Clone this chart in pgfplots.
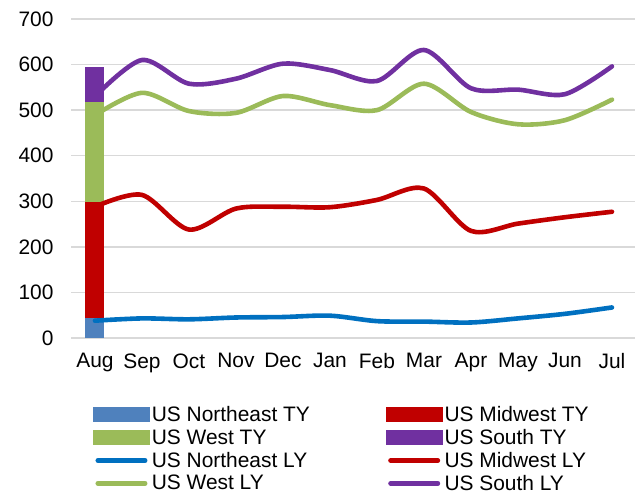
\documentclass[border=0pt]{standalone}
\usepackage{fontspec}
\setmainfont{Liberation Sans}
\usepackage{pgfplots}
\pgfplotsset{compat=1.18}
\definecolor{neB}{HTML}{4F81BD}
\definecolor{neL}{HTML}{0070C0}
\definecolor{mw}{HTML}{C00000}
\definecolor{we}{HTML}{9BBB59}
\definecolor{so}{HTML}{7030A0}
\definecolor{gridgray}{HTML}{D9D9D9}
\begin{document}
\begin{tikzpicture}
\useasboundingbox (0,0) rectangle (641bp,497bp);
\begin{axis}[
  at={(71bp,159bp)}, anchor=south west,
  scale only axis, width=564bp, height=319bp,
  xmin=-0.51, xmax=11.49, ymin=0, ymax=700,
  xtick={0,...,11},
  xticklabels={Aug,Sep,Oct,Nov,Dec,Jan,Feb,Mar,Apr,May,Jun,Jul},
  ytick={0,100,...,700},
  ymajorgrids=true, xmajorgrids=false,
  major grid style={gridgray, line width=1.5bp},
  axis line style={draw=none},
  major tick length=0pt,
  /pgf/number format/assume math mode=true,
  tick label style={font=\fontsize{21}{24}\selectfont, text=black},
  yticklabel style={xshift=-14bp},
  xticklabel style={yshift=-12bp},
  legend columns=2,
  legend cell align=left,
  legend style={at={(0.039,-0.214)}, anchor=north west, draw=none, fill=none,
    font=\fontsize{21}{24}\selectfont, row sep=6.2bp,
    nodes={inner sep=0pt},
    /tikz/every odd column/.append style={column sep=2bp},
    /tikz/every even column/.append style={column sep=76bp},
    inner sep=0pt},
]
\draw[gridgray, line width=1.5bp] (axis cs:-0.51,0) -- (axis cs:11.49,0);
% TY stacked bars at Aug (drawn tallest first, overlapping)
\addplot[ybar, bar width=19bp, fill=so, draw=none, forget plot] coordinates {(0,594)};
\addplot[ybar, bar width=19bp, fill=we, draw=none, forget plot] coordinates {(0,518)};
\addplot[ybar, bar width=19bp, fill=mw, draw=none, forget plot] coordinates {(0,298)};
\addplot[ybar, bar width=19bp, fill=neB, draw=none, forget plot] coordinates {(0,44)};
\addlegendimage{legend image code/.code={\fill[neB] (0bp,-5.3bp) rectangle (52bp,5.3bp);}}
\addlegendimage{legend image code/.code={\fill[mw] (0bp,-5.3bp) rectangle (52bp,5.3bp);}}
\addlegendimage{legend image code/.code={\fill[we] (0bp,-5.3bp) rectangle (52bp,5.3bp);}}
\addlegendimage{legend image code/.code={\fill[so] (0bp,-5.3bp) rectangle (52bp,5.3bp);}}
\pgfplotsset{every axis plot/.append style={smooth, tension=0.5, line width=4.6bp, line cap=round, mark=none,
  legend image code/.code={\draw[#1, line width=5bp, line cap=round] (2.5bp,0bp) -- (49.5bp,0bp);}}}
\addplot[neL] coordinates {(0,38)(1,43)(2,41)(3,45)(4,46)(5,49)(6,37)(7,36)(8,34)(9,43)(10,53)(11,67)};
\addplot[mw] coordinates {(0,288)(1,314)(2,238)(3,284)(4,288)(5,287)(6,303)(7,328)(8,235)(9,251)(10,265)(11,277)};
\addplot[we] coordinates {(0,489)(1,538)(2,498)(3,494)(4,531)(5,511)(6,500)(7,558)(8,496)(9,469)(10,478)(11,523)};
\addplot[so] coordinates {(0,530)(1,610)(2,558)(3,569)(4,602)(5,588)(6,564)(7,632)(8,548)(9,545)(10,535)(11,596)};
\legend{US Northeast TY, US Midwest TY, US West TY, US South TY, US Northeast LY, US Midwest LY, US West LY, US South LY}
\end{axis}
\end{tikzpicture}
\end{document}
